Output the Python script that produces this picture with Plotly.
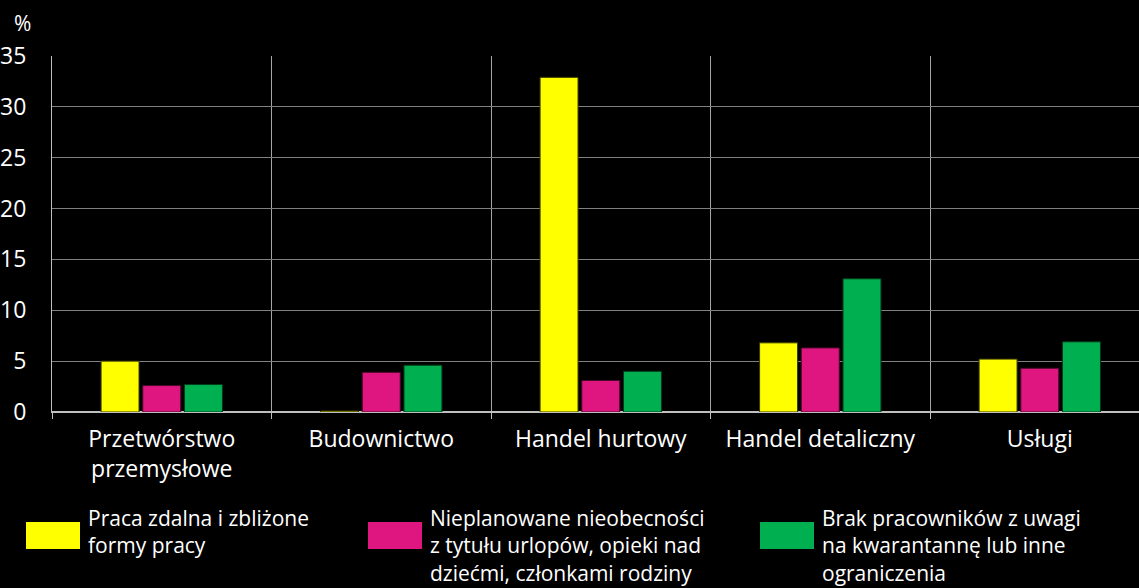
import plotly.graph_objects as go

categories = ["Przetwórstwo<br>przemysłowe", "Budownictwo", "Handel hurtowy", "Handel detaliczny", "Usługi"]
series_names = [
    "Praca zdalna i zbliżone<br>formy pracy",
    "Nieplanowane nieobecności<br>z tytułu urlopów, opieki nad<br>dziećmi, członkami rodziny",
    "Brak pracowników z uwagi<br>na kwarantannę lub inne<br>ograniczenia",
]
praca_zdalna = [5.0, 0.1, 32.9, 6.8, 5.2]
nieobecnosci = [2.6, 3.9, 3.1, 6.3, 4.3]
kwarantanna = [2.7, 4.6, 4.0, 13.1, 6.9]
y_ticks = [0, 5, 10, 15, 20, 25, 30, 35]

colors = ["#FFFF00", "#DF1680", "#00AF50"]
outline = ["#3a3a00", "#4a0a28", "#003a1a"]
FONT = "Open Sans"
W, H = 1139, 588
ML, MR, MT, MB = 52, 0, 56, 176
PW, PH = W - ML - MR, H - MT - MB


def px(xp):
    return (xp - ML) / PW


def py(yp):
    return (H - MB - yp) / PH


fig = go.Figure()
for name, vals, c, oc in zip(series_names, [praca_zdalna, nieobecnosci, kwarantanna], colors, outline):
    fig.add_trace(go.Bar(x=categories, y=vals, name=name, marker=dict(color=c, line=dict(color=oc, width=1)),
                         showlegend=False))

# manual legend
leg_x = [26, 368, 760]
for i, (name, c) in enumerate(zip(series_names, colors)):
    fig.add_shape(type="rect", xref="paper", yref="paper",
                  x0=px(leg_x[i]), x1=px(leg_x[i] + 54),
                  y0=py(549), y1=py(522),
                  fillcolor=c, line=dict(width=0))
    fig.add_annotation(xref="paper", yref="paper", x=px(leg_x[i] + 60),
                       y=py(502), xanchor="left", yanchor="top",
                       text=name, showarrow=False, align="left",
                       font=dict(family=FONT, size=21, color="white"))

fig.add_annotation(xref="paper", yref="paper", x=px(22), y=py(7),
                   xanchor="center", yanchor="top", text="%", showarrow=False,
                   font=dict(family=FONT, size=21, color="white"))

fig.update_layout(
    width=W, height=H,
    paper_bgcolor="black", plot_bgcolor="black",
    margin=dict(l=ML, r=MR, t=MT, b=MB, pad=0),
    barmode="group", bargap=0.43, bargroupgap=0.09,
    font=dict(family=FONT, size=22, color="white"),
    xaxis=dict(range=[-0.5, 4.452], tickson="boundaries", showgrid=True, gridcolor="#a6a6a6", gridwidth=1,
               ticks="outside", ticklen=6, tickcolor="#bfbfbf", showline=True, linecolor="#bfbfbf",
               tickfont=dict(family=FONT, size=23, color="white"), ticklabelstandoff=6),
    yaxis=dict(range=[0, 35], tickvals=y_ticks, showgrid=True, gridcolor="#808080", gridwidth=1,
               zeroline=True, zerolinecolor="#bfbfbf", zerolinewidth=2, showline=True, linecolor="#bfbfbf",
               tickfont=dict(family=FONT, size=23, color="white"), ticklabelstandoff=20),
)

fig.write_html("out.html", config={"displayModeBar": False},
               post_script="document.body.style.margin='0';document.body.style.background='black';")
